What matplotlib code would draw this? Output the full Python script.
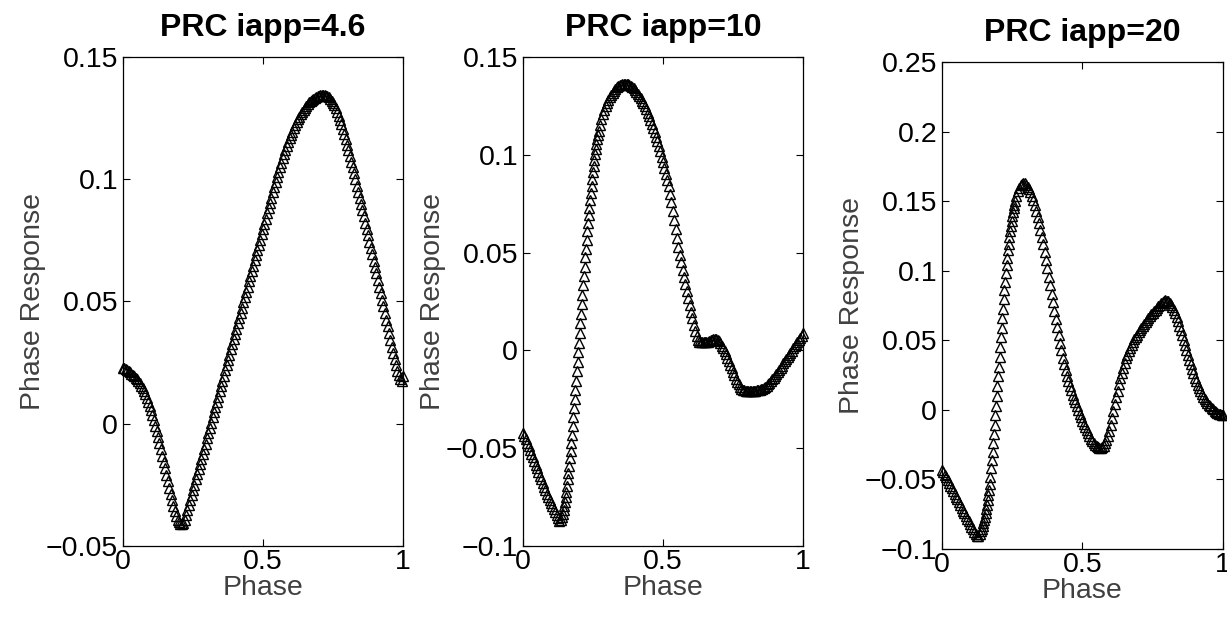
"""Phase response curves for three applied currents, drawn MATLAB style."""
import matplotlib
matplotlib.use("Agg")
import matplotlib.pyplot as plt
import numpy as np

PRC_46 = [
    0.0230, 0.0227, 0.0223, 0.0219, 0.0215, 0.0210, 0.0205, 0.0200, 0.0195, 0.0188,
    0.0181, 0.0173, 0.0165, 0.0155, 0.0145, 0.0133, 0.0120, 0.0105, 0.0090, 0.0073,
    0.0055, 0.0035, 0.0014, -0.0008, -0.0030, -0.0055, -0.0080, -0.0105, -0.0130, -0.0156,
    -0.0182, -0.0209, -0.0235, -0.0261, -0.0286, -0.0311, -0.0335, -0.0356, -0.0376, -0.0392,
    -0.0403, -0.0409, -0.0410, -0.0405, -0.0392, -0.0374, -0.0354, -0.0333, -0.0312, -0.0291,
    -0.0270, -0.0249, -0.0228, -0.0207, -0.0186, -0.0165, -0.0144, -0.0123, -0.0102, -0.0081,
    -0.0060, -0.0039, -0.0017, 0.0004, 0.0026, 0.0047, 0.0068, 0.0090, 0.0111, 0.0133,
    0.0154, 0.0175, 0.0197, 0.0218, 0.0240, 0.0261, 0.0282, 0.0304, 0.0325, 0.0347,
    0.0368, 0.0389, 0.0411, 0.0432, 0.0454, 0.0475, 0.0496, 0.0518, 0.0539, 0.0561,
    0.0582, 0.0603, 0.0625, 0.0646, 0.0668, 0.0689, 0.0710, 0.0732, 0.0753, 0.0775,
    0.0796, 0.0817, 0.0839, 0.0860, 0.0882, 0.0903, 0.0924, 0.0946, 0.0967, 0.0988,
    0.1008, 0.1028, 0.1048, 0.1067, 0.1085, 0.1103, 0.1120, 0.1136, 0.1152, 0.1167,
    0.1181, 0.1195, 0.1209, 0.1221, 0.1233, 0.1245, 0.1256, 0.1266, 0.1275, 0.1284,
    0.1293, 0.1300, 0.1308, 0.1314, 0.1320, 0.1325, 0.1330, 0.1334, 0.1337, 0.1340,
    0.1342, 0.1344, 0.1345, 0.1345, 0.1344, 0.1342, 0.1339, 0.1335, 0.1329, 0.1322,
    0.1313, 0.1302, 0.1290, 0.1276, 0.1260, 0.1243, 0.1225, 0.1206, 0.1186, 0.1164,
    0.1142, 0.1119, 0.1096, 0.1072, 0.1048, 0.1024, 0.0999, 0.0974, 0.0949, 0.0924,
    0.0899, 0.0874, 0.0849, 0.0823, 0.0797, 0.0771, 0.0745, 0.0719, 0.0693, 0.0667,
    0.0641, 0.0615, 0.0588, 0.0561, 0.0534, 0.0507, 0.0480, 0.0453, 0.0426, 0.0398,
    0.0370, 0.0342, 0.0315, 0.0289, 0.0263, 0.0239, 0.0217, 0.0198, 0.0183, 0.0176,
    0.0195,
]

PRC_10 = [
    -0.0420, -0.0437, -0.0455, -0.0473, -0.0491, -0.0509, -0.0528, -0.0546, -0.0565, -0.0584,
    -0.0603, -0.0622, -0.0641, -0.0660, -0.0679, -0.0697, -0.0715, -0.0733, -0.0750, -0.0766,
    -0.0782, -0.0797, -0.0813, -0.0828, -0.0843, -0.0859, -0.0872, -0.0868, -0.0850, -0.0818,
    -0.0775, -0.0722, -0.0660, -0.0590, -0.0513, -0.0430, -0.0342, -0.0250, -0.0155, -0.0058,
    0.0040, 0.0138, 0.0236, 0.0333, 0.0428, 0.0520, 0.0608, 0.0691, 0.0768, 0.0842,
    0.0910, 0.0975, 0.1032, 0.1080, 0.1120, 0.1154, 0.1183, 0.1208, 0.1230, 0.1249,
    0.1266, 0.1281, 0.1295, 0.1307, 0.1318, 0.1328, 0.1337, 0.1344, 0.1350, 0.1355,
    0.1359, 0.1362, 0.1364, 0.1364, 0.1363, 0.1361, 0.1357, 0.1352, 0.1346, 0.1339,
    0.1332, 0.1323, 0.1313, 0.1302, 0.1290, 0.1277, 0.1263, 0.1248, 0.1232, 0.1215,
    0.1197, 0.1178, 0.1158, 0.1137, 0.1115, 0.1092, 0.1068, 0.1043, 0.1017, 0.0990,
    0.0962, 0.0933, 0.0903, 0.0872, 0.0838, 0.0802, 0.0760, 0.0714, 0.0666, 0.0619,
    0.0574, 0.0531, 0.0490, 0.0451, 0.0412, 0.0375, 0.0338, 0.0302, 0.0267, 0.0232,
    0.0198, 0.0164, 0.0131, 0.0099, 0.0072, 0.0054, 0.0045, 0.0042, 0.0041, 0.0041,
    0.0041, 0.0042, 0.0044, 0.0047, 0.0051, 0.0055, 0.0058, 0.0059, 0.0058, 0.0054,
    0.0047, 0.0037, 0.0025, 0.0011, -0.0004, -0.0020, -0.0037, -0.0055, -0.0073, -0.0091,
    -0.0109, -0.0127, -0.0144, -0.0160, -0.0174, -0.0186, -0.0195, -0.0201, -0.0205, -0.0207,
    -0.0208, -0.0208, -0.0208, -0.0208, -0.0208, -0.0207, -0.0206, -0.0205, -0.0203, -0.0201,
    -0.0198, -0.0195, -0.0191, -0.0186, -0.0180, -0.0173, -0.0165, -0.0157, -0.0148, -0.0139,
    -0.0130, -0.0120, -0.0110, -0.0100, -0.0089, -0.0078, -0.0067, -0.0056, -0.0045, -0.0034,
    -0.0023, -0.0012, -0.0001, 0.0010, 0.0021, 0.0032, 0.0043, 0.0054, 0.0065, 0.0076,
    0.0087,
]

PRC_20 = [
    -0.0430, -0.0448, -0.0466, -0.0485, -0.0504, -0.0524, -0.0544, -0.0564, -0.0584, -0.0604,
    -0.0624, -0.0644, -0.0664, -0.0684, -0.0704, -0.0724, -0.0744, -0.0764, -0.0783, -0.0802,
    -0.0821, -0.0840, -0.0858, -0.0876, -0.0893, -0.0905, -0.0906, -0.0892, -0.0868, -0.0835,
    -0.0792, -0.0742, -0.0683, -0.0614, -0.0535, -0.0420, -0.0300, -0.0172, -0.0040, 0.0100,
    0.0240, 0.0380, 0.0520, 0.0660, 0.0795, 0.0922, 0.1040, 0.1146, 0.1240, 0.1321,
    0.1390, 0.1449, 0.1498, 0.1538, 0.1570, 0.1596, 0.1615, 0.1626, 0.1630, 0.1627,
    0.1618, 0.1604, 0.1586, 0.1563, 0.1536, 0.1505, 0.1470, 0.1431, 0.1389, 0.1343,
    0.1294, 0.1243, 0.1189, 0.1133, 0.1075, 0.1016, 0.0956, 0.0895, 0.0834, 0.0773,
    0.0712, 0.0652, 0.0593, 0.0536, 0.0480, 0.0427, 0.0376, 0.0328, 0.0283, 0.0243,
    0.0206, 0.0172, 0.0140, 0.0110, 0.0081, 0.0053, 0.0025, -0.0002, -0.0028, -0.0053,
    -0.0077, -0.0100, -0.0123, -0.0146, -0.0168, -0.0189, -0.0208, -0.0225, -0.0240, -0.0252,
    -0.0262, -0.0269, -0.0273, -0.0273, -0.0268, -0.0257, -0.0240, -0.0216, -0.0188, -0.0150,
    -0.0107, -0.0060, -0.0010, 0.0040, 0.0090, 0.0138, 0.0184, 0.0227, 0.0267, 0.0304,
    0.0338, 0.0369, 0.0397, 0.0422, 0.0445, 0.0467, 0.0487, 0.0506, 0.0524, 0.0541,
    0.0558, 0.0574, 0.0590, 0.0605, 0.0620, 0.0634, 0.0648, 0.0661, 0.0674, 0.0686,
    0.0698, 0.0710, 0.0721, 0.0732, 0.0744, 0.0756, 0.0766, 0.0775, 0.0782, 0.0786,
    0.0785, 0.0780, 0.0770, 0.0756, 0.0738, 0.0717, 0.0693, 0.0666, 0.0637, 0.0606,
    0.0573, 0.0539, 0.0504, 0.0468, 0.0432, 0.0396, 0.0361, 0.0327, 0.0294, 0.0262,
    0.0232, 0.0204, 0.0178, 0.0154, 0.0132, 0.0112, 0.0094, 0.0078, 0.0063, 0.0049,
    0.0036, 0.0024, 0.0013, 0.0003, -0.0006, -0.0014, -0.0021, -0.0027, -0.0032, -0.0036,
    -0.0040,
]

# The steep rising arms are sampled more finely in the source (markers nearly touch),
# so these extra readings sit between the 0.005 grid points.
STEEP_10_PHASE = [
    0.1425, 0.1475, 0.1525, 0.1575, 0.1625, 0.1675, 0.1725, 0.1775, 0.1825, 0.1875,
    0.1925, 0.1975, 0.2025, 0.2075, 0.2125, 0.2175, 0.2225, 0.2275, 0.2325, 0.2375,
    0.2425, 0.2475, 0.2525, 0.2575, 0.2625, 0.2675,
]
STEEP_10 = [
    -0.0836, -0.0798, -0.0750, -0.0692, -0.0626, -0.0552, -0.0472, -0.0387, -0.0296, -0.0203,
    -0.0107, -0.0009, 0.0089, 0.0187, 0.0285, 0.0381, 0.0475, 0.0565, 0.0650, 0.0730,
    0.0806, 0.0877, 0.0943, 0.1004, 0.1057, 0.1101,
]
STEEP_20_PHASE = [
    0.1425, 0.1475, 0.1525, 0.1575, 0.1625, 0.1675, 0.1725, 0.1775, 0.1825, 0.1875,
    0.1925, 0.1975, 0.2025, 0.2075, 0.2125, 0.2175, 0.2225, 0.2275, 0.2325, 0.2375,
    0.2425, 0.2475, 0.2525, 0.2575,
]
STEEP_20 = [
    -0.0853, -0.0815, -0.0768, -0.0713, -0.0649, -0.0576, -0.0480, -0.0360, -0.0236, -0.0106,
    0.0030, 0.0170, 0.0310, 0.0450, 0.0590, 0.0728, 0.0859, 0.0982, 0.1094, 0.1194,
    0.1282, 0.1356, 0.1420, 0.1474,
]

TITLES = ["PRC iapp=4.6", "PRC iapp=10", "PRC iapp=20"]
X_TICKS = [0, 0.5, 1]
Y_TICKS = [
    [-0.05, 0, 0.05, 0.1, 0.15],
    [-0.1, -0.05, 0, 0.05, 0.1, 0.15],
    [-0.1, -0.05, 0, 0.05, 0.1, 0.15, 0.2, 0.25],
]

# axes boxes in figure fractions (left, bottom, width, height)
AXES_POS = [
    [0.1002, 0.1165, 0.2282, 0.7913],
    [0.4262, 0.1165, 0.2282, 0.7913],
    [0.7677, 0.1117, 0.2290, 0.7880],
]

plt.rcParams["font.family"] = ["Liberation Sans", "DejaVu Sans"]


def tick_text(v):
    return ("%g" % v).replace("-", "\u2212")


def main():
    fig = plt.figure(figsize=(12.27, 6.18), dpi=100)
    grid = np.linspace(0, 1, len(PRC_46))
    curves = [
        (grid, PRC_46),
        (np.concatenate([grid, STEEP_10_PHASE]), PRC_10 + STEEP_10),
        (np.concatenate([grid, STEEP_20_PHASE]), PRC_20 + STEEP_20),
    ]

    for pos, title, yt, (phase, prc) in zip(AXES_POS, TITLES, Y_TICKS, curves):
        ax = fig.add_axes(pos)
        order = np.argsort(phase)
        ax.plot(np.asarray(phase)[order], np.asarray(prc)[order], linestyle="none",
                marker="^", markersize=6.5, markerfacecolor="none",
                markeredgecolor="k", markeredgewidth=1.0, clip_on=False)

        ax.set_xlim(0, 1)
        ax.set_ylim(yt[0], yt[-1])
        ax.set_xticks(X_TICKS)
        ax.set_xticklabels([tick_text(v) for v in X_TICKS])
        ax.set_yticks(yt)
        ax.set_yticklabels([tick_text(v) for v in yt])
        ax.tick_params(direction="in", top=True, right=True, length=5, width=0.8,
                       labelsize=20.5)
        ax.tick_params(axis="x", pad=2)
        ax.tick_params(axis="y", pad=3.5)
        for sp in ax.spines.values():
            sp.set_linewidth(0.9)

        ax.set_xlabel("Phase", fontsize=20.5, color="#404040", labelpad=0)
        ax.set_ylabel("Phase Response", fontsize=20.5, color="#404040", labelpad=0)
        ax.set_title(title, fontsize=23, fontweight="bold", pad=15)

    fig.savefig("out.png", dpi=100)
    plt.close(fig)


if __name__ == "__main__":
    main()
